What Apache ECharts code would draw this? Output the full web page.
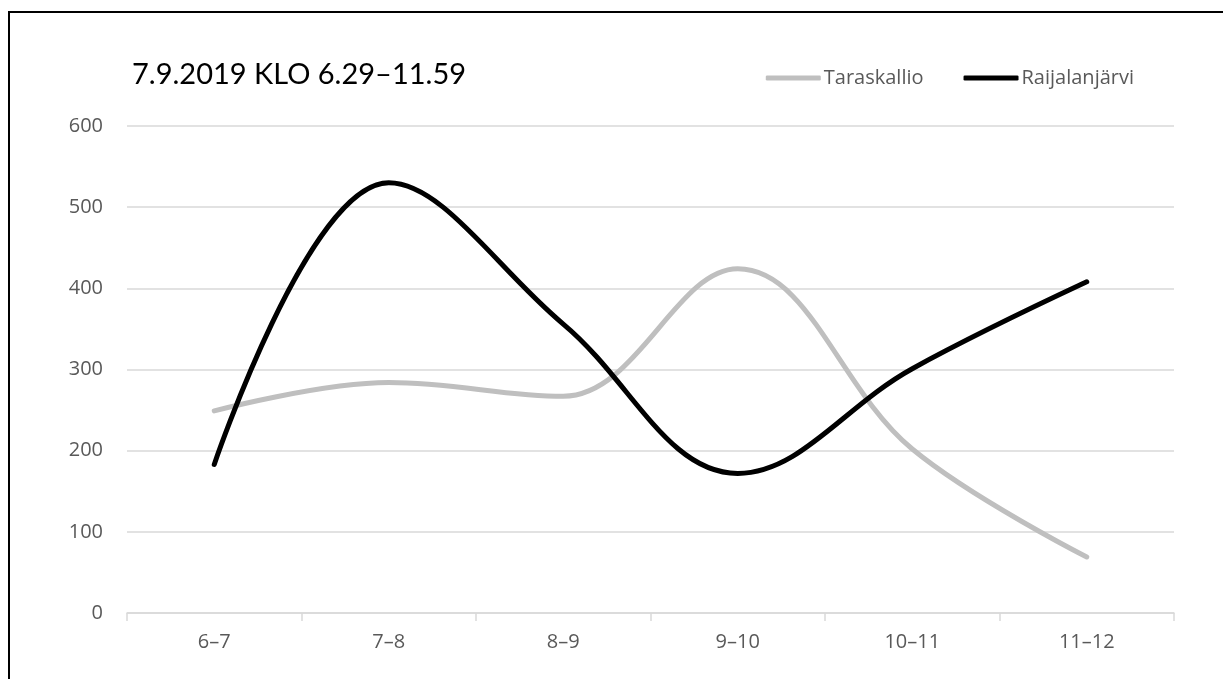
<!DOCTYPE html>
<html>
<head>
<meta charset="utf-8">
<title>7.9.2019 KLO 6.29–11.59</title>
<script src="https://cdn.jsdelivr.net/npm/echarts@6/dist/echarts.min.js"></script>
<style>
  html, body { margin: 0; padding: 0; background: #fff; overflow: hidden; }
  .frame {
    position: absolute;
    left: 8px; top: 11px;
    width: 1240px; height: 700px;
    border: 2px solid #000;
    box-sizing: border-box;
  }
  #chart { position: absolute; left: 0; top: 0; width: 1223px; height: 679px; }
</style>
</head>
<body>
<div class="frame"></div>
<div id="chart"></div>
<script>
const categories = ['6–7', '7–8', '8–9', '9–10', '10–11', '11–12']
const taraskallio = [249, 284, 267, 424, 202, 69]
const raijalanjarvi = [183, 530, 356, 172, 301, 408]
const yTicks = [0, 100, 200, 300, 400, 500, 600]

const chart = echarts.init(document.getElementById('chart'))

const titleFont = 'Lato, sans-serif'
const labelFont = '"Open Sans", "Noto Sans", sans-serif'

chart.setOption({
  animation: false,
  title: {
    text: '7.9.2019 KLO 6.29–11.59',
    left: 127,
    top: 55,
    textStyle: {
      fontFamily: titleFont,
      fontSize: 29,
      fontWeight: 'normal',
      color: '#000'
    }
  },
  legend: {
    right: 84,
    top: 63,
    itemWidth: 55,
    itemHeight: 5,
    itemGap: 40,
    icon: 'roundRect',
    textStyle: { fontFamily: labelFont, fontSize: 20, color: '#595959', padding: [0, 0, 0, -2] },
    data: ['Taraskallio', 'Raijalanjärvi']
  },
  grid: {
    left: 127,
    right: 49,
    top: 126,
    bottom: 66
  },
  xAxis: {
    type: 'category',
    boundaryGap: true,
    data: categories,
    axisLine: { lineStyle: { color: '#d9d9d9', width: 1.5 } },
    axisTick: { show: true, length: 8, lineStyle: { color: '#d9d9d9', width: 1.5 } },
    axisLabel: { fontFamily: labelFont, fontSize: 20, color: '#595959', margin: 19 }
  },
  yAxis: {
    type: 'value',
    min: yTicks[0],
    max: yTicks[yTicks.length - 1],
    interval: 100,
    axisLine: { show: false },
    axisTick: { show: false },
    axisLabel: { fontFamily: labelFont, fontSize: 20, color: '#595959', margin: 24 },
    splitLine: { lineStyle: { color: '#d9d9d9', width: 1.5 } }
  },
  series: [
    {
      name: 'Taraskallio',
      type: 'line',
      smooth: 0.38,
      symbol: 'none',
      data: taraskallio,
      itemStyle: { color: '#bfbfbf' },
      lineStyle: { color: '#bfbfbf', width: 5, cap: 'round', join: 'round' }
    },
    {
      name: 'Raijalanjärvi',
      type: 'line',
      smooth: 0.38,
      symbol: 'none',
      data: raijalanjarvi,
      itemStyle: { color: '#000' },
      lineStyle: { color: '#000', width: 5, cap: 'round', join: 'round' }
    }
  ]
})
</script>
</body>
</html>
